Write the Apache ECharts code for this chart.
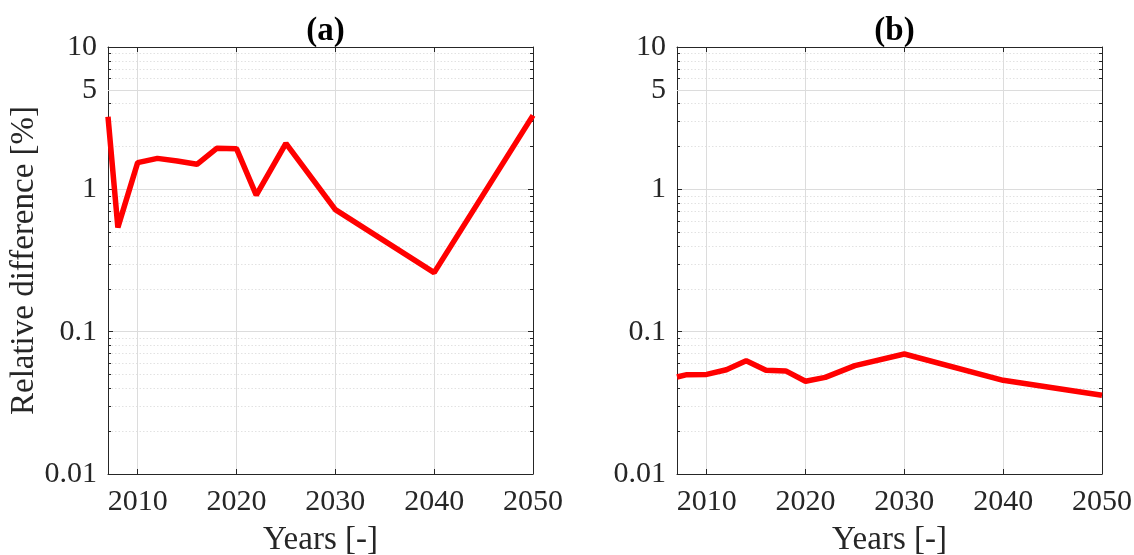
<!DOCTYPE html>
<html><head><meta charset="utf-8">
<script src="https://cdn.jsdelivr.net/npm/echarts@6/dist/echarts.min.js"></script>
<style>html,body{margin:0;padding:0;background:#fff}#c{width:1134px;height:555px}</style>
</head><body><div id="c"></div>
<script>
const yearsA = [2007,2008,2010,2012,2014,2016,2018,2020,2022,2025,2030,2040,2050];
const valuesA = [3.24,0.54,1.54,1.65,1.58,1.50,1.94,1.93,0.91,2.10,0.72,0.26,3.31];
const yearsB = [2007,2008,2010,2012,2014,2016,2018,2020,2022,2025,2030,2040,2050];
const valuesB = [0.048,0.0499,0.0501,0.054,0.0625,0.0535,0.053,0.0448,0.0477,0.0577,0.0697,0.0455,0.0357];
const xTicks = [2010,2020,2030,2040,2050];
const yTicks = [0.01,0.1,1,10];
const extraYTick = 5;
const titles = ['(a)','(b)'];
const xName = 'Years [-]';
const yName = 'Relative difference [%]';

const FONT = 'Liberation Serif';
const TXT = '#262626';
const GRID = '#dcdcdc';
const MINOR = '#e2e2e2';
const FS = 30;
const FL = 33;
const grids = [
  {left:108, top:47, width:425, height:427, outerBoundsMode:'none', containLabel:false},
  {left:677, top:47, width:425, height:427, outerBoundsMode:'none', containLabel:false}
];

const xAxes = [], yAxes = [], series = [], titleArr = [];
const data = [[yearsA, valuesA],[yearsB, valuesB]];
grids.forEach((g, i) => {
  titleArr.push({text: titles[i], left: g.left + g.width/2, top: 10, textAlign:'center',
    textStyle:{fontFamily:FONT, fontSize:FL, fontWeight:'bold', color:'#000'}});
  const xBase = {type:'value', gridIndex:i, min:2007, max:2050,
    axisLine:{show:true, onZero:false, lineStyle:{color:TXT, width:1}},
    axisTick:{show:true, inside:true, length:5, customValues:xTicks, lineStyle:{color:TXT}},
    axisLabel:{customValues:xTicks, fontFamily:FONT, fontSize:FS, color:TXT, margin:13,
      formatter: v => String(v)},
    splitLine:{show:true, lineStyle:{color:GRID, width:1}}};
  xAxes.push(Object.assign({}, xBase, {position:'bottom', name:xName, nameLocation:'middle', nameGap:50,
    nameTextStyle:{fontFamily:FONT, fontSize:FL, color:TXT}}));
  xAxes.push(Object.assign({}, xBase, {position:'top', axisLabel:{show:false, customValues:xTicks}, splitLine:{show:false}}));
  const yBase = {type:'log', logBase:10, gridIndex:i, min:0.01, max:10,
    axisLine:{show:true, onZero:false, lineStyle:{color:TXT, width:1}},
    axisTick:{show:true, inside:true, length:5, lineStyle:{color:TXT}},
    minorTick:{show:true, splitNumber:9, length:3, lineStyle:{color:TXT}},
    axisLabel:{fontFamily:FONT, fontSize:FS, color:TXT, margin:11,
      formatter: v => String(+v.toPrecision(3))},
    splitLine:{show:true, lineStyle:{color:GRID, width:1}},
    minorSplitLine:{show:true, lineStyle:{color:MINOR, width:1, type:[1.5,2]}}};
  yAxes.push(Object.assign({}, yBase, {position:'left',
    name: i === 0 ? yName : '', nameLocation:'middle', nameGap:58,
    nameTextStyle:{fontFamily:FONT, fontSize:FL, color:TXT}}));
  yAxes.push(Object.assign({}, yBase, {position:'right', axisLabel:{show:false}, splitLine:{show:false}, minorSplitLine:{show:false}}));
  series.push({type:'line', xAxisIndex:2*i, yAxisIndex:2*i,
    data: data[i][0].map((y, k) => [y, data[i][1][k]]),
    showSymbol:false, lineStyle:{color:'#ff0000', width:5.5}, itemStyle:{color:'#ff0000'},
    z:3, animation:false,
    markLine:{silent:true, symbol:'none', animation:false, z:1,
      lineStyle:{color:GRID, type:'solid', width:1},
      label:{show:true, position:'start', formatter:String(extraYTick), distance:11,
        fontFamily:FONT, fontSize:FS, color:TXT},
      data:[{yAxis:extraYTick}]}});
});

const chart = echarts.init(document.getElementById('c'));
chart.setOption({animation:false, backgroundColor:'#fff', title:titleArr, grid:grids,
  xAxis:xAxes, yAxis:yAxes, series});
</script></body></html>
